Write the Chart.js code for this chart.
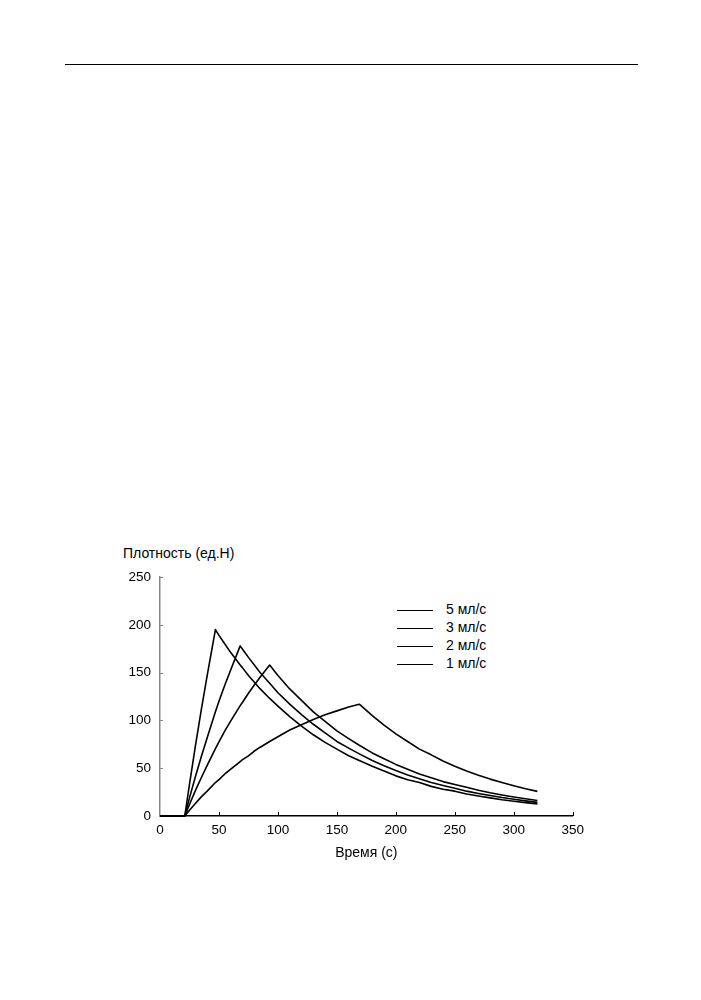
<!DOCTYPE html>
<html>
<head>
<meta charset="utf-8">
<script src="https://cdn.jsdelivr.net/npm/chart.js"></script>
<style>
    body { margin: 0; background: #fff; font-family: "Liberation Sans", Arial, sans-serif; }
    #rule { position: absolute; left: 65px; top: 64px; width: 573px; height: 0; border-top: 1px solid #000; }
    #ytitle { position: absolute; left: 123px; top: 545px; font-size: 14px; line-height: 16px; color: #000; }
    #legend { position: absolute; left: 397px; top: 600px; font-size: 14px; color: #000; }
    #legend div { height: 18px; line-height: 18px; white-space: nowrap; }
    #legend span.ln { display: inline-block; width: 36px; height: 0; border-top: 1.6px solid #000; vertical-align: middle; margin-right: 13px; }
    #box { position: absolute; left: 110px; top: 560px; width: 480px; height: 310px; }
</style>
</head>
<body>
<div id="rule"></div>
<div id="ytitle">Плотность (ед.Н)</div>
<div id="legend"></div>
<div id="box"><canvas id="myChart"></canvas></div>

<script>
    // время, с
    var time = [0, 21, 25, 30, 35, 40, 47, 50, 55, 60, 68, 70, 75, 80, 85, 93, 100, 110, 120, 130, 140,
        150, 160, 169, 180, 190, 200, 210, 220, 230, 240, 250, 260, 270, 280, 290, 300, 310, 320];

    // плотность (ед.Н)
    var rate5 = [0, 0, 33, 73, 111, 147, 195, 189, 180, 171, 158, 155, 147, 140, 133, 123, 115, 104, 94, 85, 77,
        70, 63, 58, 52, 47, 42, 38, 35, 31, 28, 26, 23, 21, 19, 17, 15.5, 14, 12.7];
    var rate3 = [0, 0, 19, 41, 62, 82, 109, 120, 137, 153, 178, 174.5, 166, 158, 150, 139, 129, 117, 106, 96, 87,
        78, 71, 65, 58, 52.5, 47.5, 43, 39, 35, 32, 29, 26, 23.6, 21.4, 19.3, 17.5, 15.8, 14.3];
    var rate2 = [0, 0, 12, 26.5, 40, 53, 70.5, 77.5, 89, 99.5, 115.5, 119, 128.5, 137, 145.5, 158, 147, 133, 121, 109, 99,
        89, 81, 74, 66, 60, 54, 49, 44, 40, 36, 33, 30, 27, 24.3, 22, 19.9, 18, 16.3];
    var rate1 = [0, 0, 6, 13, 20, 26, 35, 38, 44, 49, 57, 59, 63, 68, 72, 78, 83, 90, 95.5, 101, 106,
        110, 114, 117, 105, 95, 86, 78, 70, 64, 57.5, 52, 47, 42.6, 38.6, 35, 31.6, 28.6, 25.8];

    var seriesLabels = ['5 мл/с', '3 мл/с', '2 мл/с', '1 мл/с'];
    var seriesData = [rate5, rate3, rate2, rate1];

    var xTicks = [0, 50, 100, 150, 200, 250, 300, 350];
    var yTicks = [0, 50, 100, 150, 200, 250];

    var font = "'Liberation Sans', Arial, sans-serif";

    var datasets = seriesData.map(function (vals, i) {
        return {
            label: seriesLabels[i],
            data: vals.map(function (v, k) { return { x: time[k], y: v }; }),
            borderColor: '#000',
            borderWidth: 1.6,
            borderJoinStyle: 'round',
            pointRadius: 0,
            tension: 0,
            fill: false,
            clip: false
        };
    });

    // короткие штрихи осей внутрь
    var innerTicks = {
        id: 'innerTicks',
        afterDatasetsDraw: function (chart) {
            var ctx = chart.ctx, xs = chart.scales.x, ys = chart.scales.y;
            var b = chart.chartArea.bottom;
            ctx.save();
            ctx.strokeStyle = '#000';
            ctx.lineWidth = 1;
            xTicks.forEach(function (t) {
                if (t === 0) return;
                var px = Math.round(xs.getPixelForValue(t)) + 0.5;
                ctx.beginPath();
                ctx.moveTo(px, b);
                ctx.lineTo(px, b - 4);
                ctx.stroke();
            });
            ctx.strokeStyle = '#888';
            yTicks.forEach(function (t) {
                if (t === 0) return;
                var py = Math.round(ys.getPixelForValue(t)) + 0.5;
                ctx.beginPath();
                ctx.moveTo(chart.chartArea.left, py);
                ctx.lineTo(chart.chartArea.left + 3, py);
                ctx.stroke();
            });
            ctx.restore();
        }
    };

    new Chart(document.getElementById('myChart'), {
        type: 'line',
        data: { datasets: datasets },
        plugins: [innerTicks],
        options: {
            responsive: true,
            maintainAspectRatio: false,
            animation: false,
            layout: { padding: { left: 0, right: 15, top: 15, bottom: 0 } },
            plugins: {
                legend: { display: false },
                tooltip: { enabled: false }
            },
            scales: {
                x: {
                    type: 'linear',
                    min: 0, max: 350,
                    afterFit: function (s) { s.height = 54; },
                    afterBuildTicks: function (s) { s.ticks = xTicks.map(function (v) { return { value: v }; }); },
                    grid: { display: true, drawOnChartArea: false, drawTicks: false },
                    border: { color: '#000', width: 1.5 },
                    ticks: { color: '#000', padding: 6, font: { family: font, size: 13.5 }, maxRotation: 0 },
                    title: {
                        display: true, text: 'Время (с)', color: '#000',
                        font: { family: font, size: 14 }, padding: { top: 4, bottom: 8 }
                    }
                },
                y: {
                    min: 0, max: 250,
                    afterFit: function (s) { s.width = 50; },
                    afterBuildTicks: function (s) { s.ticks = yTicks.map(function (v) { return { value: v }; }); },
                    grid: { display: true, drawOnChartArea: false, drawTicks: false },
                    border: { color: '#888', width: 1.5 },
                    ticks: { color: '#000', padding: 9, font: { family: font, size: 13.5 } }
                }
            }
        }
    });

    // легенда
    var lg = document.getElementById('legend');
    seriesLabels.forEach(function (name) {
        var row = document.createElement('div');
        var ln = document.createElement('span');
        ln.className = 'ln';
        row.appendChild(ln);
        row.appendChild(document.createTextNode(name));
        lg.appendChild(row);
    });
</script>
</body>
</html>
